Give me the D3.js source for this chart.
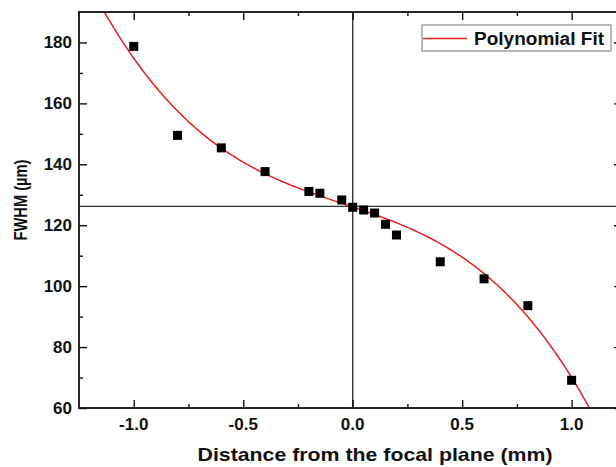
<!DOCTYPE html>
<html>
<head>
<meta charset="utf-8">
<script src="https://cdn.jsdelivr.net/npm/d3@7"></script>
<style>
  body { margin: 0; background: #fff; }
  svg { display: block; font-family: "Liberation Sans", Arial, sans-serif; font-weight: bold; }
</style>
</head>
<body>
<div id="chart"></div>
<script>
// measured points
const distance = [-1.0, -0.8, -0.6, -0.4, -0.2, -0.15, -0.05, 0.0, 0.05, 0.1, 0.15, 0.2, 0.4, 0.6, 0.8, 1.0];
const fwhm = [178.7, 149.5, 145.4, 137.6, 131.1, 130.5, 128.3, 125.9, 125.0, 124.0, 120.3, 116.8, 108.0, 102.4, 93.6, 69.1];

// cubic fit y = c0 + c1 x + c2 x^2 + c3 x^3
const fitCoefficients = [126, -24.13, -3.58, -28.28];

const xTicks = [-1.0, -0.5, 0.0, 0.5, 1.0];
const xMinorTicks = [-0.75, -0.25, 0.25, 0.75];
const yTicks = [60, 80, 100, 120, 140, 160, 180];
const yMinorTicks = [70, 90, 110, 130, 150, 170];
const crossX = 0.0;
const crossY = 126.2;
const legendLabel = 'Polynomial Fit';

const width = 616, height = 467;
const margin = { top: 12, right: -6, bottom: 59, left: 79 };

const svg = d3.select('#chart').append('svg')
  .attr('width', width)
  .attr('height', height);

const x = d3.scaleLinear()
  .domain([-1.25, 1.23])
  .range([margin.left, width - margin.right]);

const y = d3.scaleLinear()
  .domain([60, 190])
  .range([height - margin.bottom, margin.top]);

const x0 = x.range()[0], x1 = x.range()[1];
const y0 = y.range()[0], y1 = y.range()[1];

svg.append('clipPath').attr('id', 'plot')
  .append('rect')
  .attr('x', x0).attr('y', y1)
  .attr('width', x1 - x0).attr('height', y0 - y1);

// crosshair lines
svg.append('line')
  .attr('x1', x(crossX)).attr('x2', x(crossX))
  .attr('y1', y1).attr('y2', y0)
  .attr('stroke', '#333').attr('stroke-width', 1.4);
svg.append('line')
  .attr('x1', x0).attr('x2', x1)
  .attr('y1', y(crossY)).attr('y2', y(crossY))
  .attr('stroke', '#333').attr('stroke-width', 1.4);

// fit curve
const fit = v => fitCoefficients.reduce((s, c, i) => s + c * Math.pow(v, i), 0);
const curveX = d3.range(-1.25, 1.2301, 0.01);
const line = d3.line()
  .x(d => x(d))
  .y(d => y(fit(d)));
svg.append('path')
  .datum(curveX)
  .attr('clip-path', 'url(#plot)')
  .attr('fill', 'none')
  .attr('stroke', '#e02020')
  .attr('stroke-width', 1.5)
  .attr('d', line);

// data squares
const s = 9;
svg.append('g').selectAll('rect')
  .data(distance)
  .join('rect')
  .attr('x', (d, i) => x(d) - s / 2)
  .attr('y', (d, i) => y(fwhm[i]) - s / 2)
  .attr('width', s)
  .attr('height', s)
  .attr('fill', '#000');

// axes, ticks pointing inward
const axisColor = '#111';
function ticks(axisGen, values, size, transform) {
  const g = svg.append('g')
    .attr('transform', transform)
    .call(axisGen.tickValues(values).tickSize(size).tickFormat(''));
  g.select('.domain').remove();
  g.selectAll('line').attr('stroke', axisColor).attr('stroke-width', 1.4);
  return g;
}
ticks(d3.axisTop(x), xTicks, 8, `translate(0,${y0})`);
ticks(d3.axisTop(x), xMinorTicks, 4, `translate(0,${y0})`);
ticks(d3.axisBottom(x), xTicks, 8, `translate(0,${y1})`);
ticks(d3.axisBottom(x), xMinorTicks, 4, `translate(0,${y1})`);
ticks(d3.axisRight(y), yTicks, 8, `translate(${x0},0)`);
ticks(d3.axisRight(y), yMinorTicks, 4, `translate(${x0},0)`);
ticks(d3.axisLeft(y), yTicks, 8, `translate(${x1},0)`);
ticks(d3.axisLeft(y), yMinorTicks, 4, `translate(${x1},0)`);

svg.append('rect')
  .attr('x', x0).attr('y', y1)
  .attr('width', x1 - x0).attr('height', y0 - y1)
  .attr('fill', 'none')
  .attr('stroke', axisColor)
  .attr('stroke-width', 1.8);

// tick labels
svg.append('g').selectAll('text')
  .data(xTicks)
  .join('text')
  .attr('x', d => x(d))
  .attr('y', y0 + 22)
  .attr('text-anchor', 'middle')
  .attr('font-size', 17)
  .attr('fill', '#111')
  .text(d => d.toFixed(1));

svg.append('g').selectAll('text')
  .data(yTicks)
  .join('text')
  .attr('x', x0 - 7)
  .attr('y', d => y(d))
  .attr('dy', '0.35em')
  .attr('text-anchor', 'end')
  .attr('font-size', 17)
  .attr('fill', '#111')
  .text(d => d);

// axis titles
svg.append('text')
  .attr('x', 375)
  .attr('y', 461)
  .attr('text-anchor', 'middle')
  .attr('font-size', 19)
  .attr('textLength', 355)
  .attr('lengthAdjust', 'spacingAndGlyphs')
  .attr('fill', '#111')
  .text('Distance from the focal plane (mm)');

svg.append('text')
  .attr('transform', 'translate(27,200) rotate(-90)')
  .attr('text-anchor', 'middle')
  .attr('font-size', 19)
  .attr('textLength', 81)
  .attr('lengthAdjust', 'spacingAndGlyphs')
  .attr('fill', '#111')
  .text('FWHM (µm)');

// legend
const legend = svg.append('g');
legend.append('rect')
  .attr('x', 422).attr('y', 25)
  .attr('width', 189).attr('height', 26)
  .attr('fill', '#fff')
  .attr('stroke', '#777')
  .attr('stroke-width', 1);
legend.append('line')
  .attr('x1', 423).attr('x2', 467)
  .attr('y1', 38.5).attr('y2', 38.5)
  .attr('stroke', '#e02020')
  .attr('stroke-width', 1.5);
legend.append('text')
  .attr('x', 474)
  .attr('y', 45)
  .attr('font-size', 18)
  .attr('textLength', 130)
  .attr('lengthAdjust', 'spacingAndGlyphs')
  .attr('fill', '#111')
  .text(legendLabel);
</script>
</body>
</html>
